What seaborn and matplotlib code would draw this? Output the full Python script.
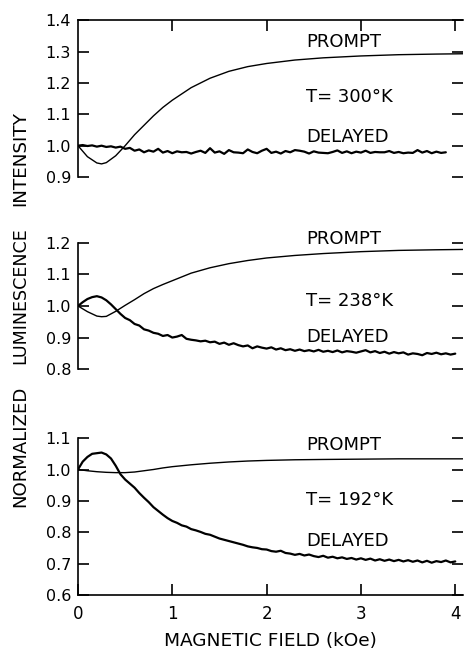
import matplotlib
matplotlib.use("Agg")
import matplotlib.pyplot as plt
import seaborn as sns
import pandas as pd

# ---- data ----
x_prompt = [0, 0.1, 0.2, 0.25, 0.3, 0.4, 0.5, 0.6, 0.7, 0.8, 0.9, 1.0, 1.2, 1.4,
            1.6, 1.8, 2.0, 2.3, 2.6, 3.0, 3.4, 3.8, 4.08]
prompt_300 = [1.000, 0.965, 0.945, 0.942, 0.946, 0.968, 1.000, 1.035, 1.065, 1.095,
              1.122, 1.145, 1.185, 1.215, 1.237, 1.252, 1.262, 1.273, 1.280, 1.286,
              1.290, 1.292, 1.293]
prompt_238 = [1.000, 0.982, 0.968, 0.966, 0.967, 0.983, 1.002, 1.020, 1.039, 1.055,
              1.068, 1.080, 1.104, 1.121, 1.134, 1.144, 1.152, 1.160, 1.166, 1.172,
              1.176, 1.178, 1.179]
prompt_192 = [1.000, 0.996, 0.993, 0.992, 0.991, 0.990, 0.990, 0.992, 0.996, 1.000,
              1.005, 1.009, 1.015, 1.020, 1.024, 1.027, 1.029, 1.031, 1.032, 1.033,
              1.034, 1.034, 1.034]

x_delayed = [0.00, 0.05, 0.10, 0.15, 0.20, 0.25, 0.30, 0.35, 0.40, 0.45,
             0.50, 0.55, 0.60, 0.65, 0.70, 0.75, 0.80, 0.85, 0.90, 0.95,
             1.00, 1.05, 1.10, 1.15, 1.20, 1.25, 1.30, 1.35, 1.40, 1.45,
             1.50, 1.55, 1.60, 1.65, 1.70, 1.75, 1.80, 1.85, 1.90, 1.95,
             2.00, 2.05, 2.10, 2.15, 2.20, 2.25, 2.30, 2.35, 2.40, 2.45,
             2.50, 2.55, 2.60, 2.65, 2.70, 2.75, 2.80, 2.85, 2.90, 2.95,
             3.00, 3.05, 3.10, 3.15, 3.20, 3.25, 3.30, 3.35, 3.40, 3.45,
             3.50, 3.55, 3.60, 3.65, 3.70, 3.75, 3.80, 3.85, 3.90, 3.95,
             4.00]
delayed_300 = [1.000, 1.002, 0.999, 1.001, 0.997, 1.000, 0.996, 0.998, 0.994, 0.997,
               0.990, 0.993, 0.984, 0.988, 0.979, 0.985, 0.981, 0.990, 0.978, 0.983,
               0.976, 0.982, 0.979, 0.980, 0.975, 0.980, 0.984, 0.977, 0.992, 0.978,
               0.982, 0.974, 0.986, 0.979, 0.978, 0.976, 0.988, 0.980, 0.976, 0.984,
               0.990, 0.977, 0.981, 0.975, 0.983, 0.979, 0.986, 0.984, 0.981, 0.975,
               0.982, 0.978, 0.977, 0.976, 0.980, 0.985, 0.977, 0.982, 0.976, 0.981,
               0.978, 0.984, 0.977, 0.980, 0.979, 0.979, 0.983, 0.977, 0.980, 0.976,
               0.978, 0.977, 0.986, 0.978, 0.983, 0.976, 0.981, 0.977, 0.979]
delayed_238 = [1.000, 1.012, 1.022, 1.028, 1.031, 1.027, 1.018, 1.005, 0.990, 0.975,
               0.962, 0.955, 0.943, 0.938, 0.926, 0.922, 0.915, 0.912, 0.905, 0.908,
               0.900, 0.903, 0.908, 0.896, 0.893, 0.891, 0.888, 0.890, 0.885, 0.887,
               0.880, 0.884, 0.877, 0.882, 0.876, 0.872, 0.875, 0.866, 0.872, 0.868,
               0.865, 0.869, 0.862, 0.866, 0.860, 0.863, 0.858, 0.862, 0.857, 0.860,
               0.856, 0.861, 0.855, 0.858, 0.854, 0.859, 0.853, 0.857, 0.855, 0.852,
               0.856, 0.860, 0.853, 0.857, 0.851, 0.855, 0.849, 0.854, 0.850, 0.853,
               0.846, 0.850, 0.848, 0.844, 0.851, 0.848, 0.852, 0.847, 0.850, 0.846,
               0.849]
delayed_192 = [1.000, 1.025, 1.040, 1.050, 1.052, 1.054, 1.048, 1.035, 1.012, 0.985,
               0.968, 0.955, 0.942, 0.925, 0.910, 0.896, 0.880, 0.868, 0.856, 0.845,
               0.836, 0.830, 0.822, 0.818, 0.810, 0.806, 0.801, 0.795, 0.792, 0.786,
               0.780, 0.776, 0.772, 0.768, 0.764, 0.760, 0.755, 0.752, 0.750, 0.746,
               0.745, 0.740, 0.738, 0.741, 0.734, 0.732, 0.728, 0.731, 0.726, 0.729,
               0.724, 0.721, 0.725, 0.719, 0.722, 0.717, 0.720, 0.715, 0.718, 0.713,
               0.717, 0.712, 0.716, 0.710, 0.714, 0.709, 0.713, 0.708, 0.712, 0.707,
               0.711, 0.706, 0.710, 0.704, 0.709, 0.703, 0.708, 0.705, 0.710, 0.704,
               0.707]

temps = ["T= 300°K", "T= 238°K", "T= 192°K"]
ylims = [(0.9, 1.4), (0.8, 1.2), (0.6, 1.1)]
yticks = [[0.9, 1.0, 1.1, 1.2, 1.3, 1.4],
          [0.8, 0.9, 1.0, 1.1, 1.2],
          [0.6, 0.7, 0.8, 0.9, 1.0, 1.1]]
xticks = [0, 1, 2, 3, 4]
# label y positions (PROMPT, T=, DELAYED) in data units
label_y = [(1.330, 1.155, 1.027), (1.213, 1.016, 0.902), (1.078, 0.903, 0.772)]
prompts = [prompt_300, prompt_238, prompt_192]
delayeds = [delayed_300, delayed_238, delayed_192]

sns.set_style("ticks")
plt.rcParams["font.family"] = ["DejaVu Sans"]
plt.rcParams["axes.linewidth"] = 1.2
for k in ["text.color", "axes.labelcolor", "xtick.color", "ytick.color",
          "axes.edgecolor"]:
    plt.rcParams[k] = "black"

fig = plt.figure(figsize=(4.67, 6.51), dpi=100)
boxes = [(0.167, 0.728, 0.824, 0.241),
         (0.167, 0.433, 0.824, 0.194),
         (0.167, 0.086, 0.824, 0.241)]

for i in range(3):
    ax = fig.add_axes(boxes[i])
    dfp = pd.DataFrame({"x": x_prompt, "y": prompts[i]})
    yd = delayeds[i]
    dfd = pd.DataFrame({"x": x_delayed[:len(yd)], "y": yd})
    sns.lineplot(data=dfp, x="x", y="y", ax=ax, color="black", lw=1.0)
    sns.lineplot(data=dfd, x="x", y="y", ax=ax, color="black", lw=1.6)
    ax.set_xlim(0, 4.08)
    ax.set_ylim(*ylims[i])
    ax.set_xlabel("")
    ax.set_ylabel("")
    ax.set_yticks(yticks[i])
    ax.set_yticklabels([f"{v:.1f}" for v in yticks[i]])
    ax.tick_params(axis="y", direction="in", left=True, right=True, length=8,
                   width=1.2, labelsize=11.5, pad=5, labelright=False)
    ax.spines["right"].set_visible(False)
    if i == 0:
        ax.spines["bottom"].set_visible(False)
        ax.set_xticks([1, 2, 3, 4])
        ax.tick_params(axis="x", direction="in", top=True, bottom=False,
                       labelbottom=False, length=8, width=1.2)
    elif i == 1:
        ax.spines["top"].set_visible(False)
        ax.spines["bottom"].set_visible(False)
        ax.set_xticks([])
    else:
        ax.spines["top"].set_visible(False)
        ax.set_xticks(xticks)
        ax.set_xticklabels([str(v) for v in xticks])
        ax.tick_params(axis="x", direction="in", top=False, bottom=True,
                       length=8, width=1.2, labelsize=12, pad=7)
    py, ty, dy = label_y[i]
    ax.text(2.42, py, "PROMPT", fontsize=13, va="center", ha="left", clip_on=False)
    ax.text(2.42, ty, temps[i], fontsize=13, va="center", ha="left", clip_on=False)
    ax.text(2.42, dy, "DELAYED", fontsize=13, va="center", ha="left", clip_on=False)

fig.text(0.579, 1 - 646 / 651, "MAGNETIC FIELD (kOe)", fontsize=13.3,
         ha="center", va="baseline")
fig.text(0.044, 1 - 159 / 651, "INTENSITY", rotation=90, fontsize=13.2,
         ha="center", va="center")
fig.text(0.044, 1 - 296 / 651, "LUMINESCENCE", rotation=90, fontsize=12.6,
         ha="center", va="center")
fig.text(0.044, 1 - 446 / 651, "NORMALIZED", rotation=90, fontsize=13.1,
         ha="center", va="center")

fig.savefig("out.png", dpi=100, facecolor="white")
